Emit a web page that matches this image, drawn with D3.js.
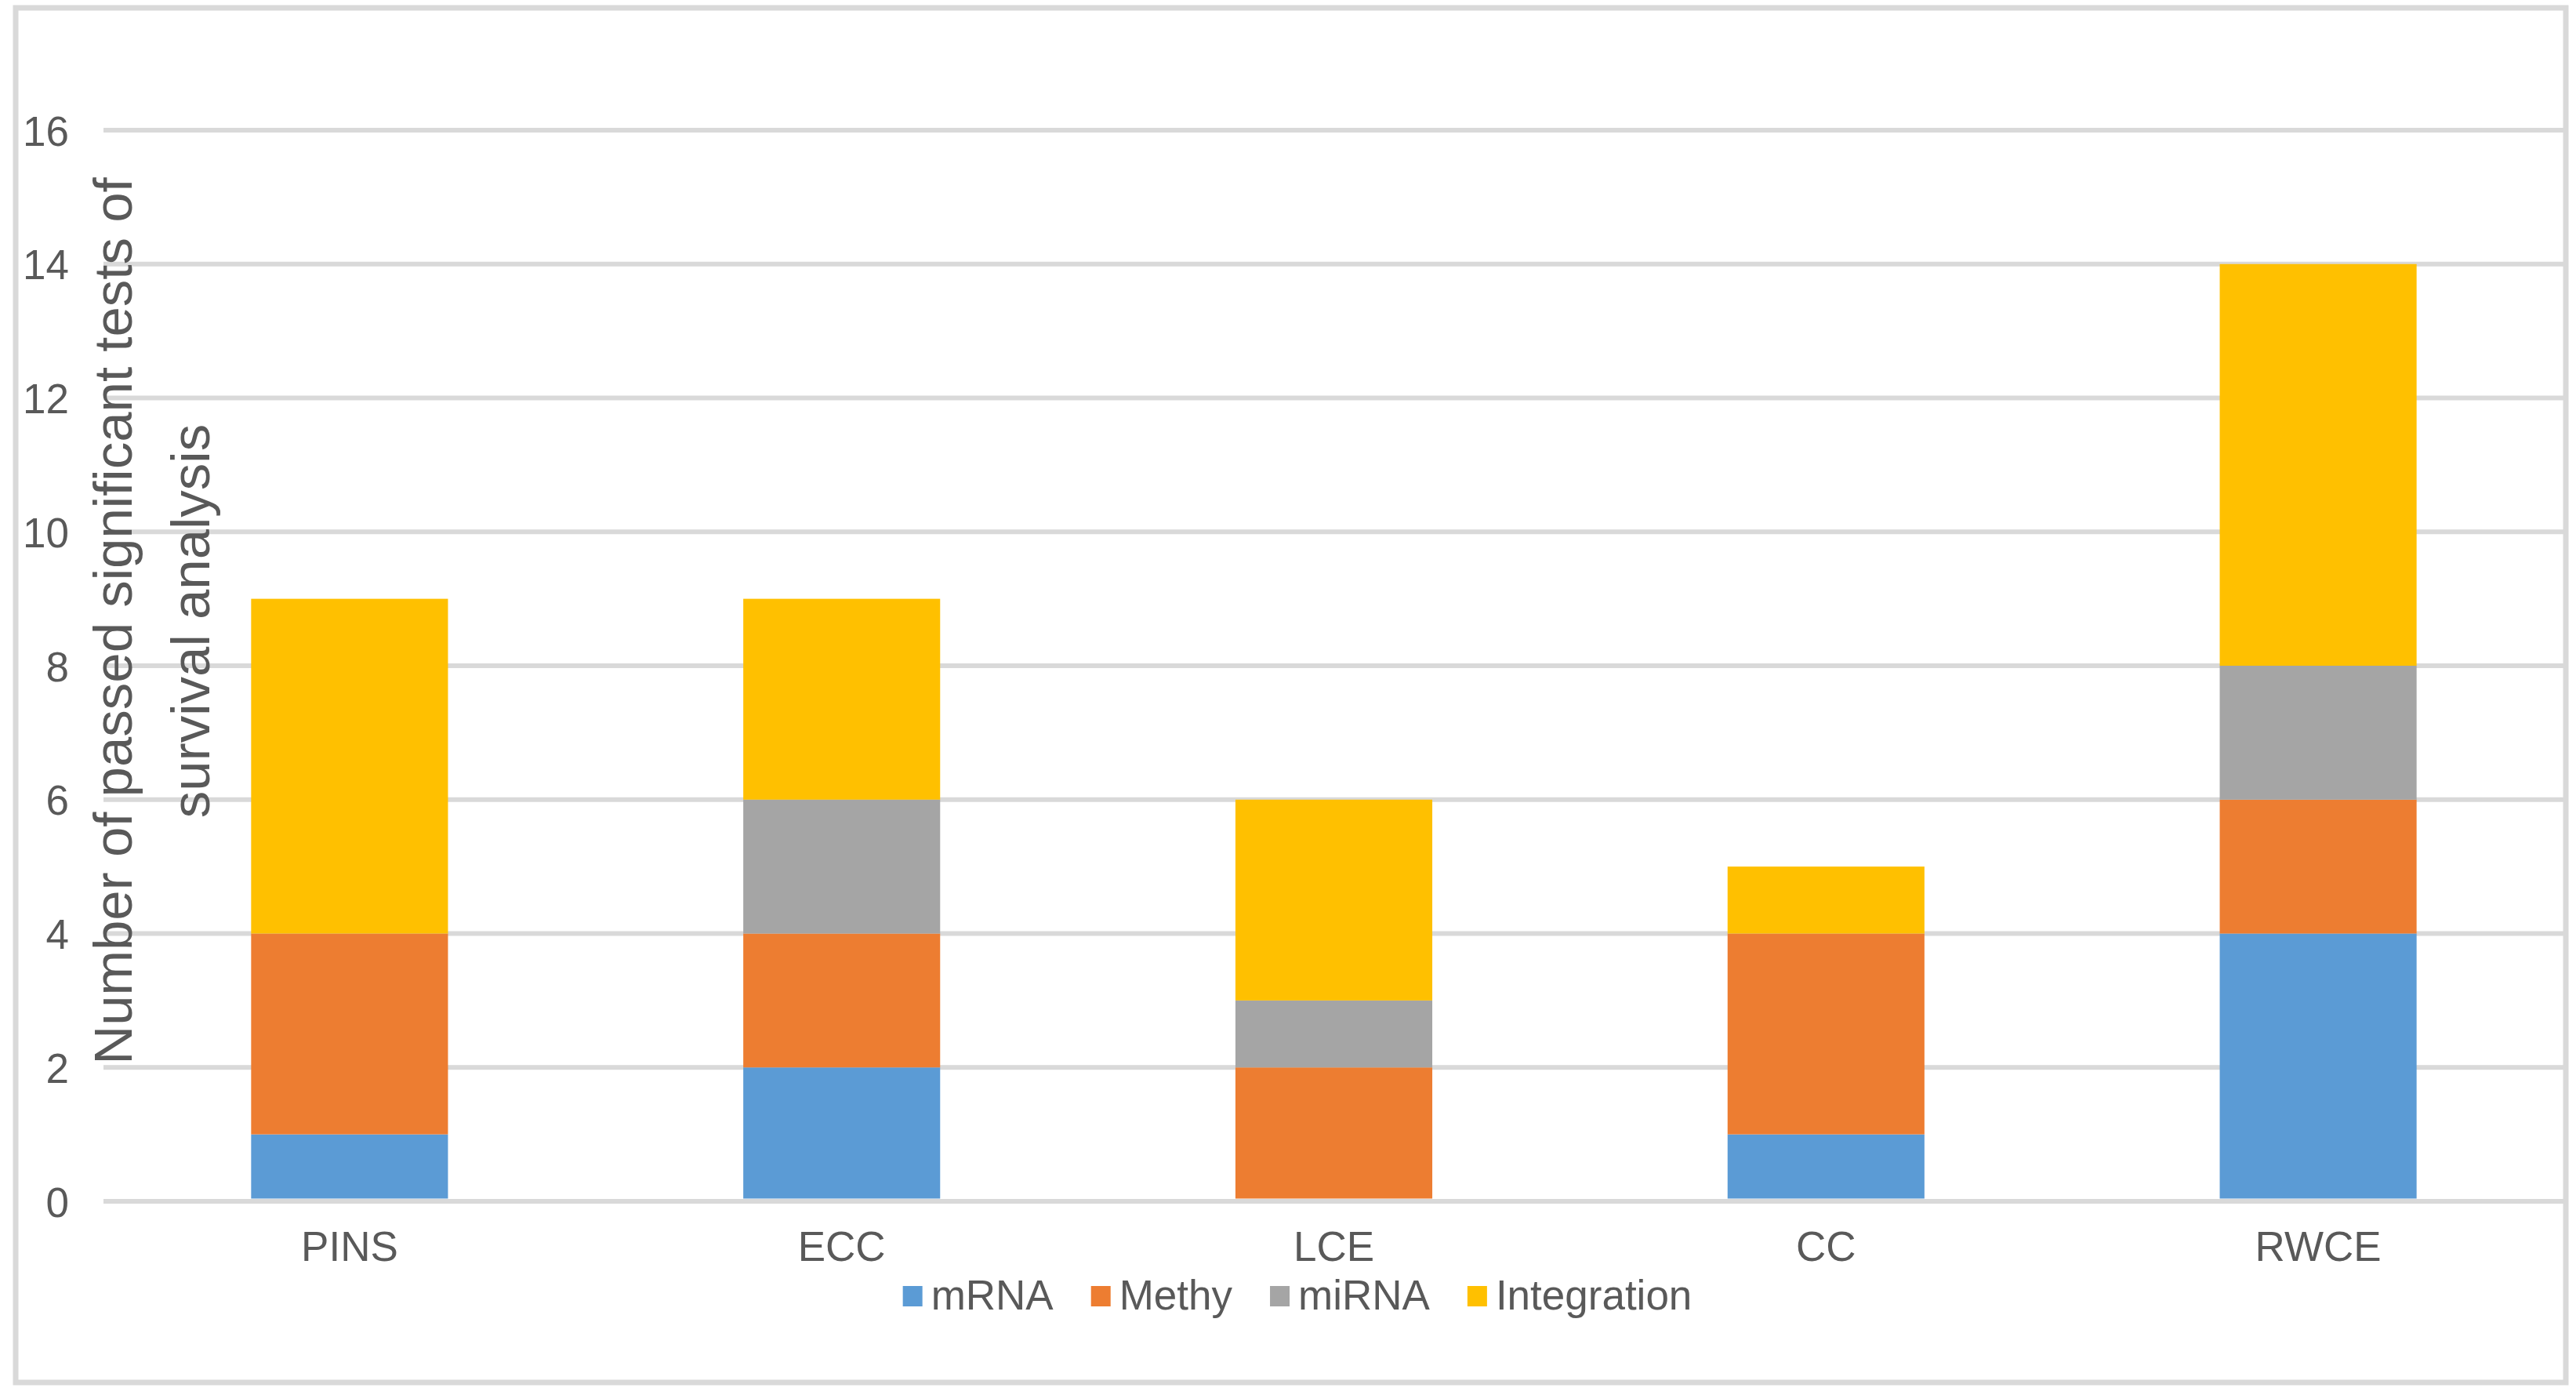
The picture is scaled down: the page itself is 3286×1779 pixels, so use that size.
<!DOCTYPE html>
<html>
<head>
<meta charset="utf-8">
<script src="https://cdn.jsdelivr.net/npm/d3@7"></script>
<style>
  body { margin: 0; background: #fff; }
  text { font-family: "Liberation Sans", Arial, sans-serif; fill: #595959; }
</style>
</head>
<body>
<svg id="chart"></svg>
<script>

const methods = ["PINS", "ECC", "LCE", "CC", "RWCE"]
const seriesNames = ["mRNA", "Methy", "miRNA", "Integration"]

const mRNA = [1, 2, 0, 1, 4]
const methy = [3, 2, 2, 3, 2]
const miRNA = [0, 2, 1, 0, 2]
const integration = [5, 3, 3, 1, 6]

const yTicks = [0, 2, 4, 6, 8, 10, 12, 14, 16]
const titleLines = ["Number of passed significant tests of", "survival analysis"]

const colors = ["#5B9BD5", "#ED7D31", "#A5A5A5", "#FFC000"]

const width = 3286
const height = 1779

const svg = d3.select("#chart")
  .attr("width", width)
  .attr("height", height)

svg.append("rect")
  .attr("width", width)
  .attr("height", height)
  .attr("fill", "#fff")

// outer chart frame
svg.append("rect")
  .attr("x", 20)
  .attr("y", 10)
  .attr("width", 3253)
  .attr("height", 1753)
  .attr("fill", "none")
  .attr("stroke", "#D9D9D9")
  .attr("stroke-width", 7)

const table = methods.map((m, i) => ({
  method: m,
  mRNA: mRNA[i],
  Methy: methy[i],
  miRNA: miRNA[i],
  Integration: integration[i]
}))

const x = d3.scaleBand()
  .domain(methods)
  .range([132, 3271])
  .paddingInner(0.6)
  .paddingOuter(0.3)

const y = d3.scaleLinear()
  .domain([0, 16])
  .range([1532, 166])

// gridlines
const grid = svg.append("g")

grid.selectAll("line")
  .data(yTicks)
  .join("line")
  .attr("x1", 132)
  .attr("x2", 3270)
  .attr("y1", d => y(d))
  .attr("y2", d => y(d))
  .attr("stroke", "#D9D9D9")
  .attr("stroke-width", 6)

// y tick labels
const yAxis = d3.axisLeft(y)
  .tickValues(yTicks)
  .tickSize(0)
  .tickPadding(0)

svg.append("g")
  .attr("transform", "translate(88,0)")
  .call(yAxis)
  .call(g => g.select(".domain").remove())
  .selectAll("text")
  .attr("font-size", 53)
  .attr("fill", "#595959")
  .attr("font-family", "Liberation Sans, Arial, sans-serif")
  .attr("dy", "0.36em")

// stacked bars
const stacked = d3.stack().keys(seriesNames)(table)

const bars = svg.append("g")

stacked.forEach((layer, k) => {

  bars.append("g")
    .attr("fill", colors[k])
    .selectAll("rect")
    .data(layer)
    .join("rect")
    .attr("x", d => x(d.data.method))
    .attr("width", x.bandwidth())
    .attr("y", d => y(d[1]))
    .attr("height", d => Math.max(0, y(d[0]) - y(d[1]) - (d[0] == 0 ? 3.5 : 0)))

})

// x category labels
const xAxis = d3.axisBottom(x)
  .tickSize(0)
  .tickPadding(0)

svg.append("g")
  .attr("transform", "translate(0,1608)")
  .call(xAxis)
  .call(g => g.select(".domain").remove())
  .selectAll("text")
  .attr("font-size", 53)
  .attr("fill", "#595959")
  .attr("font-family", "Liberation Sans, Arial, sans-serif")
  .attr("dy", 0)

// y axis title, two lines rotated
const title = svg.append("text")
  .attr("transform", "translate(0,792) rotate(-90)")
  .attr("text-anchor", "middle")
  .attr("font-size", 69)

title.selectAll("tspan")
  .data(titleLines)
  .join("tspan")
  .attr("x", 0)
  .attr("y", (d, i) => 168 + i * 99)
  .text(d => d)

// legend
const legend = svg.append("g")

let cursor = 0

seriesNames.forEach((name, i) => {

  const item = legend.append("g")

  item.append("rect")
    .attr("x", 0)
    .attr("y", 1640)
    .attr("width", 25)
    .attr("height", 26)
    .attr("fill", colors[i])

  const label = item.append("text")
    .attr("x", 36)
    .attr("y", 1670)
    .attr("font-size", 53)
    .text(name)

  const w = 36 + label.node().getComputedTextLength()
  item.attr("transform", `translate(${cursor},0)`)
  cursor += w + 48

})

const legendWidth = cursor - 48
legend.attr("transform", `translate(${1655 - legendWidth / 2},0)`)

</script>
</body>
</html>
